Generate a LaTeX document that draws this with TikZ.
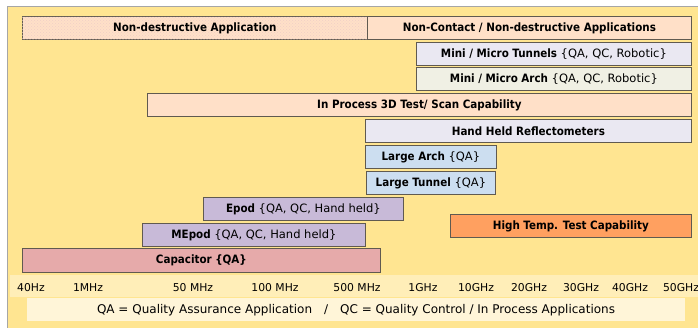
\documentclass[tikz,border=0pt]{standalone}
\usepackage{fontspec}
\setmainfont{DejaVu Sans}
\newfontfamily\narrowfont{DejaVu Sans Condensed}
\usetikzlibrary{patterns}
\definecolor{PanelClr}{RGB}{255,229,145}
\definecolor{AxisClr}{RGB}{255,238,184}
\definecolor{KeyClr}{RGB}{255,245,216}
\definecolor{EdgeClr}{RGB}{96,90,80}
\definecolor{PeachClr}{RGB}{255,224,200}
\definecolor{HatchClr}{RGB}{240,208,198}
\definecolor{LilacClr}{RGB}{234,232,242}
\definecolor{IvoryClr}{RGB}{240,240,228}
\definecolor{BlueClr}{RGB}{204,222,240}
\definecolor{PurpleClr}{RGB}{200,186,216}
\definecolor{RoseClr}{RGB}{230,170,170}
\definecolor{OrangeClr}{RGB}{255,160,96}
\newcommand{\bartitle}[1]{{\narrowfont\bfseries #1}}

\begin{document}
\begin{tikzpicture}[x=1pt,y=-1pt,
  bar/.style={draw=EdgeClr,line width=0.8pt,inner sep=0pt,minimum height=23pt,
    anchor=north west,font=\fontsize{11.5}{12}\selectfont},
  freq/.style={font=\fontsize{10.8}{12}\selectfont}]
\useasboundingbox (0,0) rectangle (698,328);
\begin{scope}
\clip (0,0) rectangle (698,328);
\draw[draw=gray!70,fill=PanelClr,line width=0.8pt] (7,340) -- (7,6) -- (710,6) -- (710,340) -- cycle;
\end{scope}

% frequency strip and key
\fill[AxisClr] (10,275) rectangle (698,297);
\fill[KeyClr] (27,298) rectangle (685,321);

% application bars, top to bottom
\node[bar,fill=PeachClr,minimum width=345pt,
  postaction={pattern=crosshatch dots,pattern color=HatchClr}] (nd) at (22,16)
  {\bartitle{Non-destructive Application}};
\node[bar,fill=PeachClr,minimum width=324pt] (nc) at (367,16)
  {\bartitle{Non-Contact / Non-destructive Applications}};
\node[bar,fill=LilacClr,minimum width=275pt] (mt) at (416,42)
  {\bartitle{Mini / Micro Tunnels} \{QA, QC, Robotic\}};
\node[bar,fill=IvoryClr,minimum width=275pt] (ma) at (416,67)
  {\bartitle{Mini / Micro Arch} \{QA, QC, Robotic\}};
\node[bar,fill=PeachClr,minimum width=544pt] (ip) at (147,93)
  {\bartitle{In Process 3D Test/ Scan Capability}};
\node[bar,fill=LilacClr,minimum width=326pt] (hh) at (365,119)
  {\bartitle{Hand Held Reflectometers}};
\node[bar,fill=BlueClr,minimum width=131pt] (la) at (365,145)
  {\bartitle{Large Arch} \{QA\}};
\node[bar,fill=BlueClr,minimum width=129pt] (lt) at (366,171)
  {\bartitle{Large Tunnel} \{QA\}};
\node[bar,fill=PurpleClr,minimum width=200pt] (ep) at (203,197)
  {\bartitle{Epod} \{QA, QC, Hand held\}};
\node[bar,fill=OrangeClr,minimum width=241pt] (ht) at (450,214)
  {\bartitle{High Temp. Test Capability}};
\node[bar,fill=PurpleClr,minimum width=223pt] (me) at (142,223)
  {\bartitle{MEpod} \{QA, QC, Hand held\}};
\node[bar,fill=RoseClr,minimum width=358pt,minimum height=24pt] (cp) at (22,248)
  {\bartitle{Capacitor \{QA\}}};

% frequency labels
\foreach \x/\lbl [count=\i] in {31/40Hz,88/1MHz,193/50 MHz,275/100 MHz,357/500 MHz,
  423/1GHz,476/10GHz,529/20GHz,581/30GHz,630/40GHz,681/50GHz}
  \node[freq] (f\i) at (\x,288) {\lbl};

\node[font=\fontsize{12}{14}\selectfont] (key) at (356,310)
  {QA = Quality Assurance Application\quad/\quad QC = Quality Control / In Process Applications};
\end{tikzpicture}
\end{document}
